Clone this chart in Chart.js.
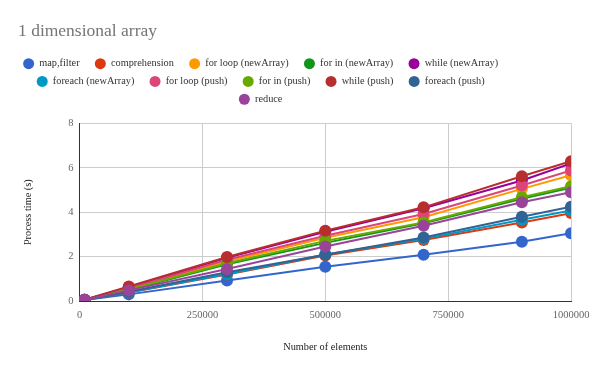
<!DOCTYPE html>
<html>
<head>
<meta charset="utf-8">
<title>1 dimensional array</title>
<script src="https://cdn.jsdelivr.net/npm/chart.js@4"></script>
<style>
    html, body { margin: 0; padding: 0; background: #fff; }
    #wrap { width: 600px; height: 371px; }
</style>
</head>
<body>
<div id="wrap"><canvas id="chart" width="600" height="371"></canvas></div>
<script>
// Data
const elements = [10000, 100000, 300000, 500000, 700000, 900000, 1000000];

const seriesNames = [
    'map,filter', 'comprehension', 'for loop (newArray)', 'for in (newArray)', 'while (newArray)',
    'foreach (newArray)', 'for loop (push)', 'for in (push)', 'while (push)', 'foreach (push)',
    'reduce'
];

const mapFilter      = [0.05, 0.30, 0.92, 1.54, 2.08, 2.67, 3.05];
const comprehension  = [0.05, 0.38, 1.20, 2.05, 2.75, 3.54, 3.96];
const forLoopNew     = [0.06, 0.55, 1.78, 2.85, 3.77, 5.05, 5.67];
const forInNew       = [0.06, 0.50, 1.66, 2.62, 3.50, 4.60, 5.10];
const whileNew       = [0.06, 0.62, 1.95, 3.12, 4.18, 5.43, 6.20];
const foreachNew     = [0.05, 0.40, 1.22, 2.10, 2.80, 3.66, 4.08];
const forLoopPush    = [0.06, 0.58, 1.86, 2.94, 3.92, 5.20, 5.88];
const forInPush      = [0.06, 0.52, 1.70, 2.71, 3.54, 4.67, 5.17];
const whilePush      = [0.06, 0.66, 1.98, 3.17, 4.22, 5.62, 6.30];
const foreachPush    = [0.05, 0.42, 1.30, 2.08, 2.86, 3.80, 4.25];
const reduce         = [0.06, 0.48, 1.44, 2.46, 3.39, 4.45, 4.90];

const seriesValues = [
    mapFilter, comprehension, forLoopNew, forInNew, whileNew,
    foreachNew, forLoopPush, forInPush, whilePush, foreachPush, reduce
];

const colors = [
    '#3366cc', '#dc3912', '#ff9900', '#109618', '#990099',
    '#0099c6', '#dd4477', '#66aa00', '#b82e2e', '#316395', '#994499'
];

const yTicks = [0, 2, 4, 6, 8];
const xTicks = [0, 250000, 500000, 750000, 1000000];

const SERIF = "'Liberation Serif', 'DejaVu Serif', serif";
const LEGEND_WRAP = 512;     // legend rows break at this width
const LEGEND_GAP = 9;        // extra room between legend and plot
const LEGEND_SHIFT = -30;    // legend is centred a bit left of the canvas middle
const ITEM_SPACER = '   ';   // widens the gap between legend items

// Legend rows wrap narrower than the canvas and sit left of centre, like the original
const legendWrap = {
    id: 'legendWrap',
    afterInit(chart) {
        const legend = chart.legend;
        if (!legend) return;
        const origUpdate = legend.update.bind(legend);
        legend.update = (w, h, m) => {
            origUpdate(Math.min(w, LEGEND_WRAP), h, m);
            legend.height += LEGEND_GAP;
        };
        const origDraw = legend.draw.bind(legend);
        legend.draw = area => {
            chart.ctx.save();
            chart.ctx.translate(LEGEND_SHIFT, 0);
            origDraw(area);
            chart.ctx.restore();
        };
    }
};

const datasets = seriesNames.map((name, i) => ({
    label: name,
    data: elements.map((x, j) => ({ x: x, y: seriesValues[i][j] })),
    borderColor: colors[i],
    backgroundColor: colors[i],
    borderWidth: 2,
    pointRadius: 6,
    pointBorderWidth: 0,
    pointHoverRadius: 6,
    tension: 0,
    order: -i
}));

const ctx = document.getElementById('chart').getContext('2d');
new Chart(ctx, {
    type: 'line',
    data: { datasets: datasets },
    plugins: [legendWrap],
    options: {
        responsive: false,
        animation: false,
        devicePixelRatio: 1,
        layout: { padding: { left: 18, right: 29, top: 8, bottom: 18 } },
        plugins: {
            title: {
                display: true,
                text: '1 dimensional array',
                align: 'start',
                color: '#757575',
                font: { family: SERIF, size: 17.5, weight: 'normal' },
                padding: { top: 13, bottom: 9 }
            },
            legend: {
                position: 'top',
                labels: {
                    usePointStyle: true,
                    pointStyle: 'circle',
                    boxHeight: 7.8,
                    pointStyleWidth: 11,
                    padding: 7.5,
                    color: '#333',
                    font: { family: SERIF, size: 10.3 },
                    sort: (a, b) => a.datasetIndex - b.datasetIndex,
                    generateLabels: chart => {
                        const items = Chart.defaults.plugins.legend.labels.generateLabels(chart);
                        items.forEach(item => { item.text = item.text + ITEM_SPACER; });
                        return items;
                    }
                }
            },
            tooltip: { enabled: false }
        },
        scales: {
            x: {
                type: 'linear',
                min: xTicks[0],
                max: xTicks[xTicks.length - 1],
                afterBuildTicks: axis => { axis.ticks = xTicks.map(v => ({ value: v })); },
                grid: { color: '#cccccc', drawTicks: false },
                border: { color: '#333333', width: 1 },
                ticks: {
                    color: '#666',
                    padding: 8,
                    maxRotation: 0,
                    font: { family: SERIF, size: 10.5 },
                    callback: v => String(v)
                },
                title: {
                    display: true,
                    text: 'Number of elements',
                    color: '#222',
                    font: { family: SERIF, size: 10.3 },
                    padding: { top: 11, bottom: 0 }
                }
            },
            y: {
                min: yTicks[0],
                max: yTicks[yTicks.length - 1],
                afterBuildTicks: axis => { axis.ticks = yTicks.map(v => ({ value: v })); },
                grid: { color: '#cccccc', drawTicks: false },
                border: { color: '#333333', width: 1 },
                ticks: {
                    color: '#666',
                    padding: 6,
                    font: { family: SERIF, size: 10.5 },
                    callback: v => String(v)
                },
                title: {
                    display: true,
                    text: 'Process time (s)',
                    color: '#222',
                    font: { family: SERIF, size: 10.3 },
                    padding: { top: 4, bottom: 28 }
                }
            }
        }
    }
});
</script>
</body>
</html>
